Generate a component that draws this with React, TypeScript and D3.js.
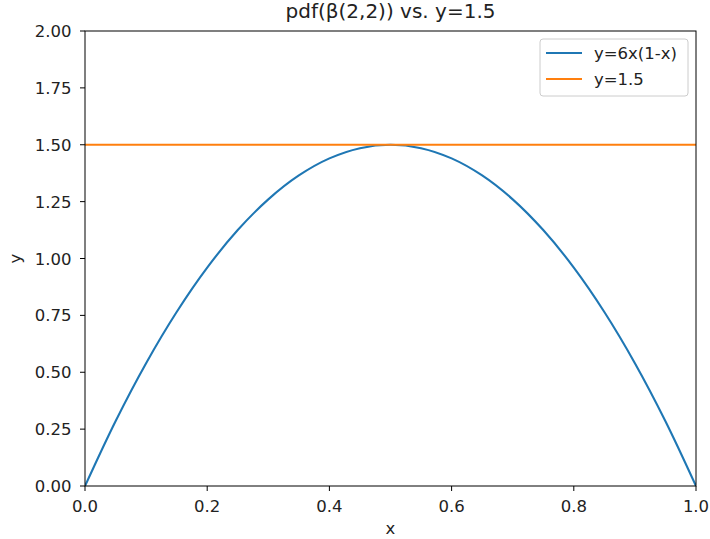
import React from "react";
import * as d3 from "d3";

const curveX = [0, 0.05, 0.1, 0.15, 0.2, 0.25, 0.3, 0.35, 0.4, 0.45, 0.5, 0.55, 0.6, 0.65, 0.7, 0.75, 0.8, 0.85, 0.9, 0.95, 1.0];
const curveY = [0, 0.285, 0.54, 0.765, 0.96, 1.125, 1.26, 1.365, 1.44, 1.485, 1.5, 1.485, 1.44, 1.365, 1.26, 1.125, 0.96, 0.765, 0.54, 0.285, 0];
const flatX = [0, 1];
const flatY = [1.5, 1.5];
const xTicks = [0, 0.2, 0.4, 0.6, 0.8, 1.0];
const yTicks = [0, 0.25, 0.5, 0.75, 1.0, 1.25, 1.5, 1.75, 2.0];
const seriesNames = ["y=6x(1-x)", "y=1.5"];
const seriesColors = ["#1f77b4", "#ff7f0e"];

const W = 710, H = 539;
const L = 85, R = 696, T = 31, B = 486;
const FONT = "DejaVu Sans, sans-serif";
const FS = 16.5;

export default function App() {
  const x = d3.scaleLinear().domain([0, 1]).range([L, R]);
  const y = d3.scaleLinear().domain([0, 2]).range([B, T]);
  const line = d3.line<[number, number]>().x(d => x(d[0])).y(d => y(d[1])).curve(d3.curveCatmullRom);
  const curveData: [number, number][] = curveX.map((v, i) => [v, curveY[i]]);
  const flatData: [number, number][] = flatX.map((v, i) => [v, flatY[i]]);
  return (
    <svg width={W} height={H} style={{ position: "absolute", left: 0, top: 0, background: "#fff" }} fontFamily={FONT}>
      <rect x={0} y={0} width={W} height={H} fill="#fff" />
      <defs>
        <clipPath id="clip"><rect x={L} y={T} width={R - L} height={B - T} /></clipPath>
      </defs>
      <g clipPath="url(#clip)">
        <path d={line(curveData) || ""} fill="none" stroke={seriesColors[0]} strokeWidth={2.1} />
        <path d={line(flatData) || ""} fill="none" stroke={seriesColors[1]} strokeWidth={2.1} />
      </g>
      <rect x={L} y={T} width={R - L} height={B - T} fill="none" stroke="#000" strokeWidth={1} />
      {xTicks.map(t => (
        <g key={"x" + t}>
          <line x1={x(t)} x2={x(t)} y1={B} y2={B + 5} stroke="#000" />
          <text x={x(t)} y={B + 25.5} fontSize={FS} textAnchor="middle" fill="#222">{t.toFixed(1)}</text>
        </g>
      ))}
      {yTicks.map(t => (
        <g key={"y" + t}>
          <line x1={L - 5} x2={L} y1={y(t)} y2={y(t)} stroke="#000" />
          <text x={L - 13.5} y={y(t) + 6} fontSize={FS} textAnchor="end" fill="#222">{t.toFixed(2)}</text>
        </g>
      ))}
      <text x={(L + R) / 2} y={534} fontSize={FS} textAnchor="middle" fill="#222">x</text>
      <text transform={`translate(21,${(T + B) / 2}) rotate(-90)`} fontSize={FS} textAnchor="middle" fill="#222">y</text>
      <text x={(L + R) / 2} y={18} fontSize={20} textAnchor="middle" fill="#222">pdf(β(2,2)) vs. y=1.5</text>
      <g>
        <rect x={540} y={39} width={148} height={57} rx={3} fill="#fff" fillOpacity={0.8} stroke="#ccc" />
        {seriesNames.map((n, i) => (
          <g key={n}>
            <line x1={546} x2={582} y1={53 + i * 26} y2={53 + i * 26} stroke={seriesColors[i]} strokeWidth={2.1} />
            <text x={594} y={59 + i * 26} fontSize={FS} fill="#222">{n}</text>
          </g>
        ))}
      </g>
    </svg>
  );
}
